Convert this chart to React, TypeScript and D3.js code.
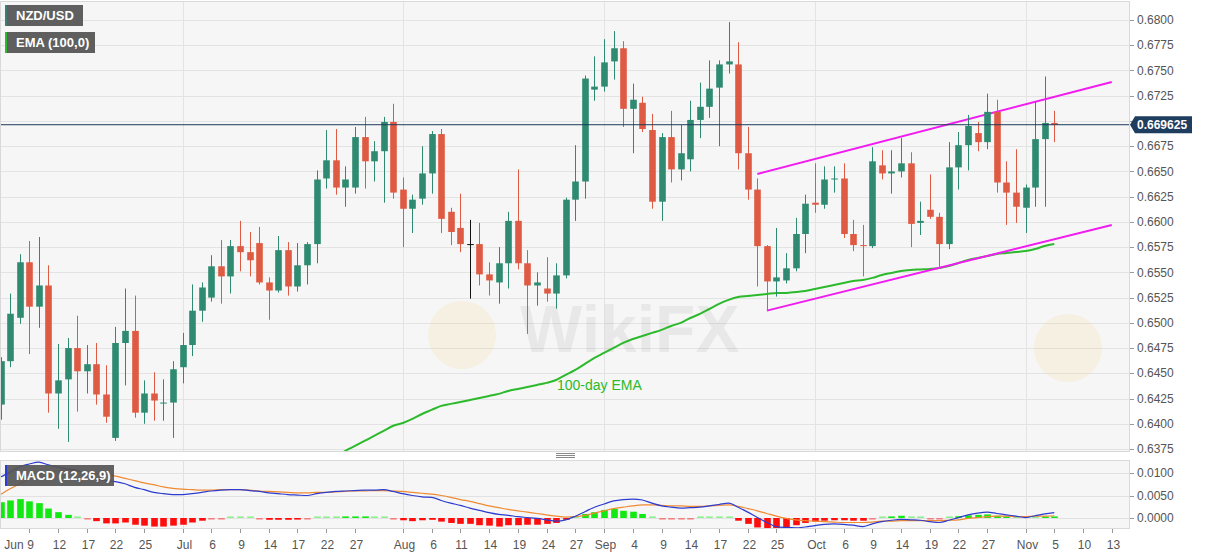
import * as d3 from 'd3';
import { useEffect } from 'react';

// daily candles, NZD/USD, Jun 4 - Nov 5 2020
const dates = [
  '06-04', '06-05', '06-08', '06-09', '06-10', '06-11', '06-12', '06-15', '06-16', '06-17', '06-18', '06-19', '06-22', '06-23', '06-24', '06-25', '06-26', '06-29', '06-30',
  '07-01', '07-02', '07-03', '07-06', '07-07', '07-08', '07-09', '07-10', '07-13', '07-14', '07-15', '07-16', '07-17', '07-20', '07-21', '07-22', '07-23', '07-24', '07-27', '07-28', '07-29', '07-30', '07-31',
  '08-03', '08-04', '08-05', '08-06', '08-07', '08-10', '08-11', '08-12', '08-13', '08-14', '08-17', '08-18', '08-19', '08-20', '08-21', '08-24', '08-25', '08-26', '08-27', '08-28', '08-31',
  '09-01', '09-02', '09-03', '09-04', '09-07', '09-08', '09-09', '09-10', '09-11', '09-14', '09-15', '09-16', '09-17', '09-18', '09-21', '09-22', '09-23', '09-24', '09-25', '09-28', '09-29', '09-30',
  '10-01', '10-02', '10-05', '10-06', '10-07', '10-08', '10-09', '10-12', '10-13', '10-14', '10-15', '10-16', '10-19', '10-20', '10-21', '10-22', '10-23', '10-26', '10-27', '10-28', '10-29', '10-30',
  '11-02', '11-03', '11-04', '11-05',
];

const open = [
  0.6419, 0.6462, 0.6505, 0.6560, 0.6516, 0.6537, 0.6430, 0.6444, 0.6475, 0.6452, 0.6459, 0.6429, 0.6386, 0.6480, 0.6492, 0.6411, 0.6430, 0.6420, 0.6421,
  0.6456, 0.6478, 0.6512, 0.6525, 0.6556, 0.6546, 0.6576, 0.6570, 0.6579, 0.6540, 0.6532, 0.6572, 0.6536, 0.6557, 0.6578, 0.6643, 0.6661, 0.6634, 0.6634, 0.6684, 0.6660, 0.6670, 0.6699,
  0.6632, 0.6613, 0.6623, 0.6648, 0.6687, 0.6610, 0.6594, 0.6578, 0.6578, 0.6548, 0.6540, 0.6559, 0.6601, 0.6559, 0.6537, 0.6534, 0.6529, 0.6547, 0.6622, 0.6640, 0.6731,
  0.6734, 0.6759, 0.6772, 0.6712, 0.6718, 0.6691, 0.6620, 0.6684, 0.6652, 0.6662, 0.6701, 0.6714, 0.6733, 0.6756, 0.6756, 0.6668, 0.6632, 0.6576, 0.6541, 0.6542, 0.6554, 0.6588,
  0.6619, 0.6617, 0.6642, 0.6643, 0.6588, 0.6577, 0.6576, 0.6656, 0.6648, 0.6650, 0.6658, 0.6599, 0.6612, 0.6605, 0.6578, 0.6654, 0.6676, 0.6688, 0.6679, 0.6709, 0.6639, 0.6629,
  0.6614, 0.6634, 0.6682, 0.6698,
];
const high = [
  0.6466, 0.6529, 0.6568, 0.6581, 0.6585, 0.6557, 0.6479, 0.6485, 0.6507, 0.6478, 0.6480, 0.6458, 0.6496, 0.6534, 0.6527, 0.6443, 0.6451, 0.6444, 0.6462,
  0.6490, 0.6538, 0.6540, 0.6567, 0.6582, 0.6582, 0.6601, 0.6590, 0.6595, 0.6545, 0.6586, 0.6580, 0.6579, 0.6580, 0.6651, 0.6691, 0.6692, 0.6655, 0.6694, 0.6704, 0.6680, 0.6704, 0.6717,
  0.6644, 0.6627, 0.6675, 0.6690, 0.6692, 0.6614, 0.6628, 0.6602, 0.6599, 0.6560, 0.6575, 0.6610, 0.6652, 0.6572, 0.6550, 0.6565, 0.6559, 0.6624, 0.6676, 0.6745, 0.6764,
  0.6781, 0.6789, 0.6779, 0.6737, 0.6724, 0.6707, 0.6688, 0.6710, 0.6696, 0.6720, 0.6738, 0.6760, 0.6760, 0.6798, 0.6778, 0.6694, 0.6643, 0.6577, 0.6594, 0.6569, 0.6604, 0.6627,
  0.6658, 0.6655, 0.6655, 0.6658, 0.6602, 0.6597, 0.6674, 0.6671, 0.6671, 0.6683, 0.6669, 0.6620, 0.6647, 0.6609, 0.6679, 0.6689, 0.6706, 0.6699, 0.6727, 0.6721, 0.6660, 0.6672,
  0.6637, 0.6719, 0.6744, 0.6710,
];
const low = [
  0.6404, 0.6456, 0.6499, 0.6469, 0.6495, 0.6411, 0.6395, 0.6382, 0.6412, 0.6430, 0.6419, 0.6401, 0.6383, 0.6438, 0.6406, 0.6400, 0.6403, 0.6403, 0.6386,
  0.6440, 0.6467, 0.6501, 0.6521, 0.6519, 0.6529, 0.6551, 0.6546, 0.6538, 0.6503, 0.6530, 0.6527, 0.6531, 0.6538, 0.6559, 0.6633, 0.6627, 0.6615, 0.6628, 0.6633, 0.6640, 0.6619, 0.6623,
  0.6575, 0.6589, 0.6617, 0.6628, 0.6589, 0.6577, 0.6570, 0.6524, 0.6537, 0.6527, 0.6519, 0.6534, 0.6553, 0.6489, 0.6517, 0.6521, 0.6514, 0.6544, 0.6601, 0.6623, 0.6720,
  0.6729, 0.6741, 0.6694, 0.6668, 0.6689, 0.6613, 0.6601, 0.6639, 0.6641, 0.6650, 0.6683, 0.6703, 0.6675, 0.6747, 0.6652, 0.6622, 0.6536, 0.6512, 0.6526, 0.6539, 0.6551, 0.6569,
  0.6609, 0.6613, 0.6629, 0.6584, 0.6571, 0.6546, 0.6574, 0.6642, 0.6628, 0.6644, 0.6575, 0.6587, 0.6603, 0.6554, 0.6573, 0.6632, 0.6651, 0.6670, 0.6672, 0.6629, 0.6597, 0.6599,
  0.6589, 0.6615, 0.6615, 0.6679,
];
const close = [
  0.6462, 0.6509, 0.6560, 0.6516, 0.6537, 0.6430, 0.6443, 0.6475, 0.6452, 0.6459, 0.6429, 0.6407, 0.6480, 0.6492, 0.6411, 0.6430, 0.6423, 0.6421, 0.6454,
  0.6478, 0.6512, 0.6535, 0.6556, 0.6546, 0.6576, 0.6570, 0.6562, 0.6540, 0.6532, 0.6572, 0.6536, 0.6557, 0.6578, 0.6642, 0.6661, 0.6634, 0.6642, 0.6684, 0.6660, 0.6670, 0.6699, 0.6629,
  0.6613, 0.6622, 0.6648, 0.6687, 0.6603, 0.6590, 0.6578, 0.6578, 0.6548, 0.6542, 0.6559, 0.6601, 0.6559, 0.6537, 0.6540, 0.6529, 0.6547, 0.6622, 0.6640, 0.6742, 0.6734,
  0.6758, 0.6772, 0.6712, 0.6721, 0.6692, 0.6620, 0.6684, 0.6652, 0.6668, 0.6701, 0.6714, 0.6732, 0.6756, 0.6759, 0.6668, 0.6632, 0.6576, 0.6541, 0.6545, 0.6554, 0.6588, 0.6618,
  0.6617, 0.6642, 0.6643, 0.6588, 0.6577, 0.6576, 0.6660, 0.6648, 0.6650, 0.6658, 0.6598, 0.6601, 0.6605, 0.6578, 0.6654, 0.6676, 0.6695, 0.6679, 0.6709, 0.6639, 0.6629, 0.6615,
  0.6634, 0.6682, 0.6698, 0.669625,
];

// 100-day EMA (below the visible range before late July)
const ema = [
  null, null, null, null, null, null, null, null, null, null, null, null, null, null, null, null, null, null, null,
  null, null, null, null, null, null, null, null, null, null, null, null, null, null, null, 0.63622, 0.63662, 0.63731, 0.6378, 0.6383, 0.6388, 0.6393, 0.6398,
  0.64008, 0.64048, 0.64097, 0.64137, 0.64177, 0.64197, 0.64216, 0.64236, 0.64256, 0.64276, 0.64296, 0.64325, 0.64345, 0.64365, 0.64385, 0.64405, 0.64434, 0.64484, 0.64533, 0.64593, 0.64652,
  0.64702, 0.64751, 0.64801, 0.6484, 0.6487, 0.649, 0.6493, 0.64969, 0.64999, 0.65048, 0.65088, 0.65137, 0.65187, 0.65227, 0.65256, 0.65266, 0.65276, 0.65286, 0.65296, 0.65296, 0.65306, 0.65316,
  0.65336, 0.65355, 0.65375, 0.65395, 0.65415, 0.65425, 0.65445, 0.65474, 0.65494, 0.65514, 0.65524, 0.65529, 0.65534, 0.65544, 0.65563, 0.65593, 0.65623, 0.65643, 0.65662, 0.65682, 0.65692, 0.65702,
  0.65712, 0.65732, 0.65761, 0.65781,
];

const macd = [
  0.0091, 0.0102, 0.0114, 0.0120, 0.0124, 0.0118, 0.0113, 0.0109, 0.0106, 0.0096, 0.0087, 0.0083, 0.0081, 0.0076, 0.0068, 0.0063, 0.0057, 0.0054, 0.0052,
  0.0052, 0.0054, 0.0057, 0.0060, 0.0062, 0.0063, 0.0063, 0.0061, 0.0059, 0.0056, 0.0054, 0.0052, 0.0051, 0.0050, 0.0054, 0.0057, 0.0059, 0.0060, 0.0061, 0.0062, 0.0062, 0.0063, 0.0059,
  0.0054, 0.0050, 0.0047, 0.0046, 0.0039, 0.0033, 0.0028, 0.0022, 0.0017, 0.0012, 0.0008, 0.0006, 0.0003, 0.0001, -0.0001, -0.0004, -0.0007, -0.0004, 0.0004, 0.0014, 0.0024,
  0.0031, 0.0038, 0.0041, 0.0042, 0.0040, 0.0033, 0.0027, 0.0024, 0.0022, 0.0023, 0.0024, 0.0027, 0.0030, 0.0033, 0.0024, 0.0013, 0.0001, -0.0010, -0.0019, -0.0021, -0.0022, -0.0020,
  -0.0017, -0.0014, -0.0013, -0.0014, -0.0016, -0.0019, -0.0013, -0.0008, -0.0005, -0.0003, -0.0004, -0.0005, -0.0008, -0.0010, -0.0005, 0.0001, 0.0007, 0.0011, 0.0013, 0.0010, 0.0007, 0.0004,
  0.0001, 0.0005, 0.0009, 0.0012,
];
const signal = [
  0.0052, 0.0065, 0.0076, 0.0087, 0.0096, 0.0102, 0.0105, 0.0106, 0.0104, 0.0102, 0.0099, 0.0097, 0.0093, 0.0088, 0.0083, 0.0078, 0.0074, 0.0069, 0.0066,
  0.0064, 0.0063, 0.0062, 0.0062, 0.0063, 0.0063, 0.0063, 0.0062, 0.0060, 0.0059, 0.0058, 0.0057, 0.0056, 0.0056, 0.0057, 0.0057, 0.0058, 0.0059, 0.0060, 0.0060, 0.0061, 0.0061, 0.0060,
  0.0059, 0.0057, 0.0055, 0.0053, 0.0050, 0.0046, 0.0041, 0.0037, 0.0032, 0.0027, 0.0023, 0.0019, 0.0016, 0.0013, 0.0010, 0.0007, 0.0004, 0.0002, 0.0003, 0.0006, 0.0011,
  0.0016, 0.0021, 0.0024, 0.0027, 0.0029, 0.0029, 0.0028, 0.0027, 0.0027, 0.0026, 0.0026, 0.0027, 0.0028, 0.0029, 0.0026, 0.0021, 0.0016, 0.0010, 0.0004, -0.0001, -0.0004, -0.0006,
  -0.0007, -0.0008, -0.0009, -0.0010, -0.0010, -0.0010, -0.0009, -0.0007, -0.0007, -0.0006, -0.0006, -0.0006, -0.0006, -0.0006, -0.0005, -0.0004, -0.0001, 0.0001, 0.0003, 0.0004, 0.0004, 0.0003,
  0.0003, 0.0004, 0.0004, 0.0005,
];
const hist = [
  0.0035, 0.0039, 0.0042, 0.0037, 0.0033, 0.0021, 0.0013, 0.0007, 0.0002, -0.0001, -0.0007, -0.0012, -0.0012, -0.0010, -0.0015, -0.0017, -0.0019, -0.0019, -0.0017,
  -0.0015, -0.0010, -0.0006, -0.0002, -0.0001, 0.0001, 0.0001, 0.0001, -0.0002, -0.0004, -0.0004, -0.0004, -0.0003, -0.0002, 0.0001, 0.0002, 0.0002, 0.0003, 0.0003, 0.0003, 0.0002, 0.0001, -0.0002,
  -0.0005, -0.0007, -0.0005, -0.0004, -0.0008, -0.0011, -0.0013, -0.0013, -0.0016, -0.0017, -0.0019, -0.0016, -0.0016, -0.0015, -0.0015, -0.0013, -0.0011, -0.0004, 0.0001, 0.0009, 0.0013,
  0.0018, 0.0020, 0.0016, 0.0014, 0.0009, 0.0001, -0.0001, -0.0002, -0.0002, -0.0001, 0.0000, 0.0001, 0.0002, 0.0002, -0.0006, -0.0013, -0.0021, -0.0023, -0.0023, -0.0020, -0.0016, -0.0011,
  -0.0008, -0.0006, -0.0005, -0.0005, -0.0006, -0.0006, -0.0001, 0.0002, 0.0003, 0.0005, 0.0002, 0.0001, -0.0001, -0.0001, 0.0001, 0.0004, 0.0006, 0.0007, 0.0008, 0.0005, 0.0003, 0.0001,
  0.0001, 0.0002, 0.0003, 0.0003,
];

// axis ticks (positions are trading-day indexes, some past the data)
const xTickIdx = [-3, 3, 6, 9, 12, 15, 19, 22, 25, 28, 31, 34, 37, 42, 45, 48, 51, 54, 57, 60, 63, 66, 69, 72, 75, 78, 81, 85, 88, 91, 94, 97, 100, 103, 107, 110, 113, 116];
const xTickLabels = ['Jun', '9', '12', '17', '22', '25', 'Jul', '6', '9', '14', '17', '22', '27', 'Aug', '6', '11', '14', '19', '24', '27', 'Sep', '4', '9', '14', '17', '22', '25', 'Oct', '6', '9', '14', '19', '22', '27', 'Nov', '5', '10', '13'];
const monthStartIdx = [19, 42, 63, 85, 107];
const priceTicks = [0.68, 0.6775, 0.675, 0.6725, 0.67, 0.6675, 0.665, 0.6625, 0.66, 0.6575, 0.655, 0.6525, 0.65, 0.6475, 0.645, 0.6425, 0.64, 0.6375];
const macdTicks = [0.01, 0.005, 0];
const lastPrice = 0.669625;

// rising channel drawn on the chart: [index, price]
const channelUpper = [[79, 0.66475], [116, 0.67386]];
const channelLower = [[80, 0.65121], [116, 0.65969]];

const GREEN = '#2e8a70';
const RED = '#df5a43';
const FONT = '"Liberation Sans", Arial, sans-serif';

export default function App() {
  useEffect(() => {
    document.body.style.margin = '0';
  }, []);

  const W = 1207;
  const H = 555;
  const plotR = 1130;
  const mainTop = 1;
  const mainBot = 452;
  const macdTop = 460;
  const macdBot = 529;

  const x = d3.scaleLinear().domain([0, 110]).range([0.5, 1054.3]);
  const y = d3.scaleLinear().domain([0.6375, 0.68]).range([449, 20]);
  const ym = d3.scaleLinear().domain([0, 0.01]).range([518, 473]);
  const bw = 6.6;

  const emaLine = d3
    .line<number | null>()
    .defined((v) => v != null)
    .x((_, i) => x(i))
    .y((v) => y(v as number))
    .curve(d3.curveMonotoneX);

  const mLine = d3
    .line<number>()
    .x((_, i) => x(i))
    .y((v) => ym(v))
    .curve(d3.curveMonotoneX);

  const chan = (pts: number[][]) => d3.line<number[]>().x((p) => x(p[0])).y((p) => y(p[1]))(pts) as string;

  const priceY = y(lastPrice);
  // the last-price badge hides the tick label it sits on
  const shownTicks = priceTicks.filter((t) => Math.abs(y(t) - priceY) > 10);

  return (
    <svg width={W} height={H} style={{ display: 'block', fontFamily: FONT }}>
      <defs>
        <clipPath id="mainClip">
          <rect x={0} y={mainTop} width={plotR} height={mainBot - mainTop} />
        </clipPath>
        <clipPath id="macdClip">
          <rect x={0} y={macdTop} width={plotR} height={macdBot - macdTop} />
        </clipPath>
      </defs>
      <rect width={W} height={H} fill="#fff" />

      {/* main panel */}
      <rect x={0} y={mainTop} width={plotR} height={mainBot - mainTop} fill="#f6f6f6" />
      {priceTicks.map((t) => (
        <line key={t} x1={0} x2={plotR} y1={Math.round(y(t)) + 0.5} y2={Math.round(y(t)) + 0.5} stroke="#e3e3e3" />
      ))}
      {monthStartIdx.map((i) => (
        <line key={i} x1={Math.round(x(i)) + 0.5} x2={Math.round(x(i)) + 0.5} y1={mainTop} y2={mainBot} stroke="#e3e3e3" />
      ))}

      {/* watermark */}
      <text x={520} y={352} fill="#000" opacity={0.05} fontWeight="bold" fontSize={66}>WikiFX</text>
      <g fill="#f0c34a" opacity={0.12}>
        <circle cx={462} cy={335} r={34} />
        <circle cx={1068} cy={348} r={34} />
      </g>

      <g clipPath="url(#mainClip)">
        <path d={emaLine(ema) as string} fill="none" stroke="#2cba2c" strokeWidth={2} />
        <path d={chan(channelUpper)} stroke="#f01cf0" strokeWidth={2} fill="none" />
        <path d={chan(channelLower)} stroke="#f01cf0" strokeWidth={2} fill="none" />
        {dates.map((d, i) => {
          const o = open[i];
          const c = close[i];
          const col = c > o ? GREEN : c < o ? RED : '#111';
          const cx = Math.round(x(i)) + 0.5;
          const top = y(Math.max(o, c));
          const h = Math.max(1, Math.abs(y(o) - y(c)));
          return (
            <g key={d}>
              <line x1={cx} x2={cx} y1={y(high[i])} y2={y(low[i])} stroke={col} strokeWidth={1} />
              <rect x={cx - bw / 2} y={top} width={bw} height={h} fill={col} />
            </g>
          );
        })}
        <line x1={0} x2={plotR} y1={priceY} y2={priceY} stroke="#1d3a5c" strokeWidth={1} />
      </g>
      <text x={557} y={390} fontSize={14} fill="#2cba2c">100-day EMA</text>
      <rect x={0.5} y={mainTop + 0.5} width={plotR - 1} height={mainBot - mainTop - 1} fill="none" stroke="#d9d9d9" />

      {/* legends */}
      <rect x={5} y={5} width={78} height={21} fill="#5f5f5f" />
      <rect x={5} y={5} width={2} height={21} fill="#3c7d78" />
      <text x={16} y={20} fontSize={13} fontWeight="bold" fill="#fff">NZD/USD</text>
      <rect x={5} y={32} width={90} height={21} fill="#5f5f5f" />
      <rect x={5} y={32} width={2} height={21} fill="#2cba2c" />
      <text x={16} y={47} fontSize={13} fontWeight="bold" fill="#fff">EMA (100,0)</text>

      {/* price axis */}
      {priceTicks.map((t) => (
        <line key={t} x1={plotR} x2={plotR + 4} y1={Math.round(y(t)) + 0.5} y2={Math.round(y(t)) + 0.5} stroke="#999" />
      ))}
      {shownTicks.map((t) => (
        <text key={t} x={1137} y={y(t)} dy="0.35em" fontSize={12} fill="#555">{t.toFixed(4)}</text>
      ))}
      <path d={`M${plotR},${priceY} l5,-8.5 h57 v17 h-57 z`} fill="#1f3d5e" />
      <text x={1137} y={priceY} dy="0.36em" fontSize={12} fontWeight="bold" fill="#fff">{lastPrice.toFixed(6)}</text>

      {/* splitter */}
      <g stroke="#888">
        <line x1={556} x2={575} y1={453.5} y2={453.5} />
        <line x1={556} x2={575} y1={455.5} y2={455.5} />
        <line x1={556} x2={575} y1={457.5} y2={457.5} />
      </g>

      {/* MACD panel */}
      <rect x={0} y={macdTop} width={plotR} height={macdBot - macdTop} fill="#f6f6f6" />
      {macdTicks.map((t) => (
        <line key={t} x1={0} x2={plotR} y1={Math.round(ym(t)) + 0.5} y2={Math.round(ym(t)) + 0.5} stroke="#e1e1e1" />
      ))}
      {monthStartIdx.map((i) => (
        <line key={i} x1={Math.round(x(i)) + 0.5} x2={Math.round(x(i)) + 0.5} y1={macdTop} y2={macdBot} stroke="#e1e1e1" />
      ))}
      <g clipPath="url(#macdClip)">
        {hist.map((v, i) => {
          const y0 = ym(0);
          const h = Math.max(1.6, Math.abs(ym(v) - y0));
          const small = Math.abs(v) < 0.00025;
          return (
            <rect
              key={i}
              x={Math.round(x(i)) + 0.5 - bw / 2}
              y={v >= 0 ? y0 - h : y0}
              width={bw}
              height={h}
              fill={v >= 0 ? '#12e812' : '#ff0c0c'}
              opacity={small ? 0.45 : 1}
            />
          );
        })}
        <path d={mLine(signal) as string} fill="none" stroke="#f08a32" strokeWidth={1.2} />
        <path d={mLine(macd) as string} fill="none" stroke="#2c3ccf" strokeWidth={1.2} />
      </g>
      <rect x={0.5} y={macdTop + 0.5} width={plotR - 1} height={macdBot - macdTop - 1} fill="none" stroke="#d9d9d9" />
      <rect x={5} y={465} width={109} height={21} fill="#555" opacity={0.92} />
      <rect x={5} y={465} width={2} height={21} fill="#2c3ccf" />
      <text x={16} y={480} fontSize={13} fontWeight="bold" fill="#fff">MACD (12,26,9)</text>
      {macdTicks.map((t) => (
        <g key={t}>
          <line x1={plotR} x2={plotR + 4} y1={Math.round(ym(t)) + 0.5} y2={Math.round(ym(t)) + 0.5} stroke="#999" />
          <text x={1137} y={ym(t)} dy="0.35em" fontSize={12} fill="#555">{t.toFixed(4)}</text>
        </g>
      ))}

      {/* date axis */}
      {xTickIdx.map((i, k) => {
        const px = Math.round(x(i)) + 0.5;
        const lx = Math.max(px + 1, 14);
        return (
          <g key={k}>
            {px > 0 && <line x1={px} x2={px} y1={macdBot} y2={macdBot + 4} stroke="#999" />}
            <text x={lx} y={549} textAnchor="middle" fontSize={12} fill="#555">{xTickLabels[k]}</text>
          </g>
        );
      })}
    </svg>
  );
}
